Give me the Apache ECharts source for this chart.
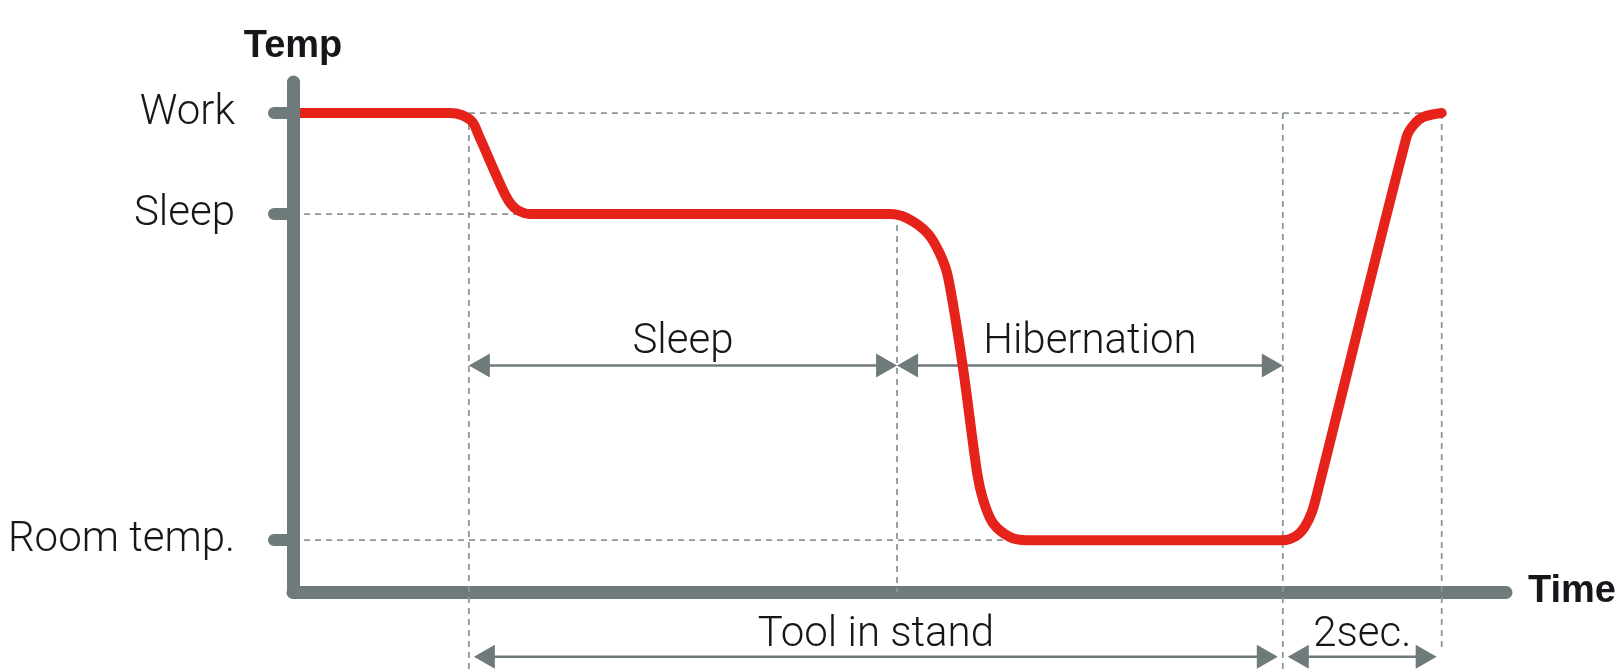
<!DOCTYPE html>
<html>
<head>
<meta charset="utf-8">
<script src="https://cdn.jsdelivr.net/npm/echarts@6/dist/echarts.min.js"></script>
<style>
  html, body { margin: 0; padding: 0; background: #ffffff; }
  #chart { width: 1623px; height: 669px; }
</style>
</head>
<body>
<div id="chart"></div>
<script>
// ---- data (schematic units) ----
const levelNames = ['Room temp.', 'Sleep', 'Work'];
const levelTemps = [20, 272, 350];

// event times: tool put in stand, hibernation starts, tool lifted, ready again
const eventTimes = [14.5, 49.8, 81.6, 94.7];

// temperature curve
const curveTime = [0, 12.9, 13.9, 14.8, 15.3, 17.3, 17.9, 18.5, 19.5,
  48.4, 49.2, 50.6, 52.3, 53.3, 54.0, 55.2, 56.4, 56.9, 57.7, 59.1, 60.5,
  81.6, 82.7, 83.4, 84.0, 84.5, 91.8, 92.4, 93.2, 94.7];
const curveTemp = [350, 350, 348.5, 343, 333, 290.6, 280.5, 275.1, 272,
  272, 272, 268.9, 257.3, 241.9, 223.3, 155.4, 71.9, 51.1, 33.3, 22.5, 20,
  20, 23.3, 30.2, 41.8, 58.8, 331.5, 341, 347, 350];

// duration annotations
const spanLabels = ['Sleep', 'Hibernation', 'Tool in stand', '2sec.'];
const spanFrom = [0, 1, 0, 2];   // index into eventTimes
const spanTo = [1, 2, 2, 3];
const spanRow = [0, 0, 1, 1];

// ---- layout / style constants ----
const AXIS_MIN = -20, AXIS_MAX = 374;
const rowTemps = [155, -70];     // vertical placement of the two annotation rows
const rowGap = [0, 5];
const rowLabelLift = [23, 21];
const GUIDE_BOTTOM = -80;
const READY_GUIDE_BOTTOM = -63;
const GRAY = '#6f7b7b';
const DASH = '#8c9797';
const RED = '#e5231b';
const TXT = '#17171b';

const work = levelTemps[2], sleep = levelTemps[1], room = levelTemps[0];
const guides = [
  [eventTimes[0], work, eventTimes[3], work],
  [0, sleep, eventTimes[1], sleep],
  [0, room, eventTimes[2], room],
  [eventTimes[0], work, eventTimes[0], GUIDE_BOTTOM],
  [eventTimes[1], sleep, eventTimes[1], AXIS_MIN],
  [eventTimes[2], work, eventTimes[2], GUIDE_BOTTOM],
  [eventTimes[3], work, eventTimes[3], READY_GUIDE_BOTTOM]
];

const chart = echarts.init(document.getElementById('chart'));
const lightFont = 'Roboto, "Liberation Sans", sans-serif';
const boldFont = '"Liberation Sans", Arial, sans-serif';

chart.setOption({
  animation: false,
  backgroundColor: '#ffffff',
  grid: { left: 293, right: 117, top: 82, bottom: 77, containLabel: false },
  xAxis: {
    type: 'value', min: 0, max: 100, z: 0,
    name: 'Time', nameLocation: 'end', nameGap: 22,
    nameTextStyle: { fontFamily: boldFont, fontWeight: 'bold', fontSize: 38, color: TXT, verticalAlign: 'middle' },
    axisLine: { onZero: false, lineStyle: { color: GRAY, width: 13, cap: 'round' } },
    axisTick: { show: false }, axisLabel: { show: false }, splitLine: { show: false }
  },
  yAxis: {
    type: 'value', min: AXIS_MIN, max: AXIS_MAX, z: 6,
    name: 'Temp', nameLocation: 'end', nameGap: 16,
    nameTextStyle: { fontFamily: boldFont, fontWeight: 'bold', fontSize: 38, color: TXT, align: 'center' },
    axisLine: { show: true, onZero: false, lineStyle: { color: GRAY, width: 13, cap: 'round' } },
    axisTick: { show: true, customValues: levelTemps, length: 19, lineStyle: { color: GRAY, width: 12, cap: 'round' } },
    axisLabel: {
      customValues: levelTemps, margin: 58,
      fontFamily: lightFont, fontWeight: 300, fontSize: 42, color: TXT,
      formatter: v => levelNames[levelTemps.indexOf(v)]
    },
    splitLine: { show: false }
  },
  series: [
    {
      type: 'custom', z: 1, clip: false,
      data: guides,
      renderItem: (params, api) => {
        const g = guides[params.dataIndex];
        const a = api.coord([g[0], g[1]]);
        const b = api.coord([g[2], g[3]]);
        return { type: 'line', shape: { x1: a[0], y1: a[1], x2: b[0], y2: b[1] },
          style: { stroke: DASH, lineWidth: 1.8, lineDash: [6, 5] } };
      }
    },
    {
      type: 'custom', z: 2, clip: false,
      data: spanLabels.map((s, i) => [eventTimes[spanFrom[i]], rowTemps[spanRow[i]]]),
      renderItem: (params, api) => {
        const i = params.dataIndex;
        const r = spanRow[i];
        const yv = rowTemps[r];
        const a = api.coord([eventTimes[spanFrom[i]], yv]);
        const b = api.coord([eventTimes[spanTo[i]], yv]);
        const gap = rowGap[r];
        const x1 = a[0] + gap, x2 = b[0] - gap, y = a[1];
        return { type: 'group', children: [
          { type: 'line', shape: { x1: x1 + 4, y1: y, x2: x2 - 4, y2: y }, style: { stroke: GRAY, lineWidth: 2.5 } },
          { type: 'polygon', shape: { points: [[x1, y], [x1 + 21, y - 12], [x1 + 21, y + 12]] }, style: { fill: GRAY } },
          { type: 'polygon', shape: { points: [[x2, y], [x2 - 21, y - 12], [x2 - 21, y + 12]] }, style: { fill: GRAY } },
          { type: 'text', x: (x1 + x2) / 2, y: y - rowLabelLift[r],
            style: { text: spanLabels[i], fontFamily: lightFont, fontWeight: 300, fontSize: 42, fill: TXT,
              align: 'center', verticalAlign: 'middle' } }
        ] };
      }
    },
    {
      type: 'line', z: 3, clip: false,
      data: curveTime.map((t, i) => [t, curveTemp[i]]),
      smooth: 0.3, symbol: 'none', showSymbol: false,
      lineStyle: { color: RED, width: 10, cap: 'round', join: 'round' }
    }
  ]
});
</script>
</body>
</html>
